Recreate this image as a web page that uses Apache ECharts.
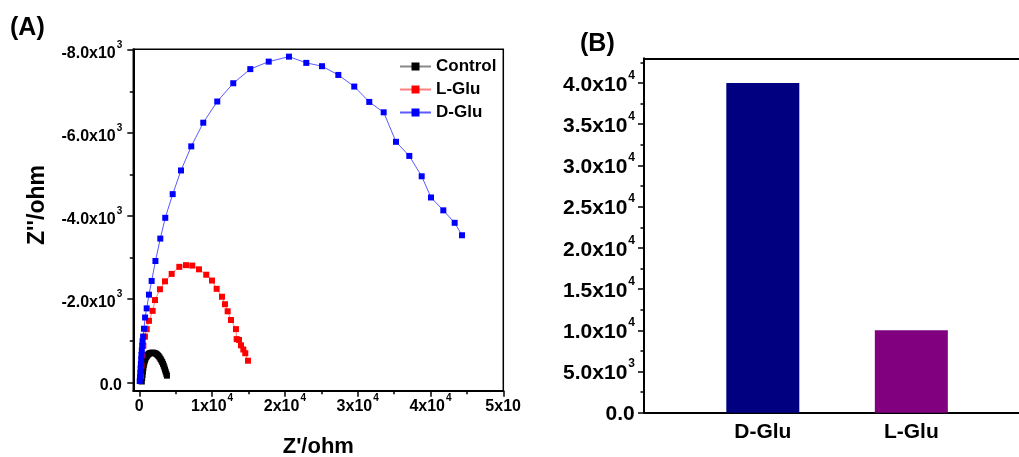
<!DOCTYPE html>
<html>
<head>
<meta charset="utf-8">
<script src="https://cdn.jsdelivr.net/npm/echarts@6/dist/echarts.min.js"></script>
<style>
  html, body { margin: 0; padding: 0; background: #fff; }
  #chart { width: 1019px; height: 457px; }
</style>
</head>
<body>
<div id="chart"></div>
<script>
const FONT = '"Liberation Sans", Arial, Helvetica, sans-serif';

// (A) Nyquist plots: Z' (real) and Z'' (imaginary), ohm
const controlZre = [350, 400, 450, 500, 560, 620, 690, 770, 860, 960, 1070, 1190, 1320, 1460, 1600, 1750, 1900, 2050, 2200, 2350, 2500, 2640, 2780, 2910, 3030, 3150, 3260, 3360, 3450, 3540, 3630, 3720, 3800];
const controlZim = [-20, -100, -180, -260, -340, -410, -470, -525, -570, -610, -640, -665, -685, -700, -708, -712, -712, -708, -698, -682, -660, -632, -600, -565, -527, -487, -445, -400, -355, -305, -255, -205, -160];

const lGluZre = [200, 300, 420, 560, 780, 1020, 1330, 1840, 2160, 2840, 3530, 4450, 5500, 6420, 7280, 8200, 9200, 9990, 10630, 11360, 11770, 12140, 12600, 13280, 13380, 13700, 13970, 14290, 14560, 14930];
const lGluZim = [-150, -400, -650, -880, -1100, -1280, -1480, -1720, -1980, -2240, -2430, -2610, -2780, -2820, -2810, -2720, -2590, -2450, -2250, -2060, -1880, -1710, -1500, -1280, -1040, -1020, -890, -790, -700, -520];

const dGluZre = [60, 100, 140, 180, 220, 260, 300, 350, 400, 450, 530, 650, 800, 1020, 1330, 1700, 2220, 2890, 3570, 4590, 5730, 7140, 8790, 10710, 12910, 15250, 17780, 20560, 22940, 25100, 27340, 29530, 31590, 33570, 35260, 37090, 38790, 40070, 41760, 43320, 44330];
const dGluZim = [-30, -120, -220, -330, -440, -550, -660, -770, -880, -990, -1100, -1290, -1560, -1780, -2110, -2440, -2920, -3460, -3960, -4530, -5100, -5680, -6250, -6760, -7200, -7540, -7720, -7840, -7690, -7610, -7400, -7120, -6750, -6500, -5790, -5450, -4960, -4450, -4140, -3840, -3540];

const nyquistXTicks = [0, 10000, 20000, 30000, 40000, 50000];
const nyquistXLabels = ['0', '1x10^4', '2x10^4', '3x10^4', '4x10^4', '5x10'];
const nyquistXMinor = [5000, 15000, 25000, 35000, 45000];
const nyquistYTicks = [-8000, -6000, -4000, -2000, 0];
const nyquistYLabels = ['-8.0x10^3', '-6.0x10^3', '-4.0x10^3', '-2.0x10^3', '0.0'];
const nyquistYMinor = [-7000, -5000, -3000, -1000];

// (B) bar comparison
const barCategories = ['D-Glu', 'L-Glu'];
const barValues = [40000, 10000];
const barColors = ['#000080', '#800080'];
const barYTicks = [0, 5000, 10000, 15000, 20000, 25000, 30000, 35000, 40000];
const barYLabels = ['0.0', '5.0x10^3', '1.0x10^4', '1.5x10^4', '2.0x10^4', '2.5x10^4', '3.0x10^4', '3.5x10^4', '4.0x10^4'];
const barYMinor = [2500, 7500, 12500, 17500, 22500, 27500, 32500, 37500, 42500];

// "a^b" -> rich text with a raised exponent; plain labels get an
// invisible strut so every label has the same line box
function withSup(label) {
  const parts = label.split('^');
  return parts.length > 1 ? '{b|' + parts[0] + '}{s|' + parts[1] + '}' : '{b|' + parts[0] + '}{e| }';
}
function tickFormatter(ticks, labels) {
  return function (v) {
    const i = ticks.findIndex(t => Math.abs(t - v) < 1e-6);
    return i < 0 ? '' : withSup(labels[i]);
  };
}
function richStyle(size, supSize, raise) {
  return {
    b: { fontFamily: FONT, fontWeight: 'bold', fontSize: size, color: '#000', lineHeight: size + 2, verticalAlign: 'bottom' },
    s: { fontFamily: FONT, fontWeight: 'bold', fontSize: supSize, color: '#000', lineHeight: supSize, verticalAlign: 'bottom', padding: [0, 0, raise, 1] },
    e: { fontFamily: FONT, fontSize: 1, color: 'rgba(0,0,0,0)', lineHeight: supSize, verticalAlign: 'bottom', padding: [0, 0, raise, 0] }
  };
}
function zip(a, b) { return a.map((v, i) => [v, b[i]]); }

const black = '#000';

const option = {
  animation: false,
  backgroundColor: '#fff',
  title: [
    { text: '(A)', left: 10, top: 16, padding: 0, textStyle: { fontFamily: FONT, fontWeight: 'bold', fontSize: 25, color: black } },
    { text: '(B)', left: 580, top: 32, padding: 0, textStyle: { fontFamily: FONT, fontWeight: 'bold', fontSize: 25, color: black } }
  ],
  legend: {
    orient: 'vertical',
    left: 399,
    top: 58,
    padding: 0,
    itemWidth: 31,
    itemHeight: 10,
    itemGap: 6,
    data: ['Control', 'L-Glu', 'D-Glu'],
    textStyle: { fontFamily: FONT, fontWeight: 'bold', fontSize: 17, color: black, lineHeight: 16 }
  },
  grid: [
    { left: 133.3, top: 49.3, width: 370, height: 341.4, show: true, borderColor: black, borderWidth: 1.5, containLabel: false, outerBoundsMode: 'none' },
    { left: 644, top: 58.3, width: 375, height: 354.4, show: false, containLabel: false, outerBoundsMode: 'none' }
  ],
  xAxis: [
    {
      type: 'value', gridIndex: 0, position: 'bottom', min: -820, max: 50000,
      axisLine: { show: true, onZero: false, lineStyle: { color: black, width: 2 } },
      axisTick: { show: true, length: 6, customValues: nyquistXTicks, lineStyle: { color: black, width: 1.5 } },
      axisLabel: { margin: 6, customValues: nyquistXTicks, formatter: tickFormatter(nyquistXTicks, nyquistXLabels), rich: richStyle(16, 10, 11) },
      splitLine: { show: false },
      name: "Z'/ohm", nameLocation: 'middle', nameGap: 45,
      nameTextStyle: { fontFamily: FONT, fontWeight: 'bold', fontSize: 22, color: black }
    },
    {
      type: 'value', gridIndex: 0, position: 'bottom', min: -820, max: 50000,
      axisLine: { show: false, onZero: false },
      axisTick: { show: true, length: 3.5, customValues: nyquistXMinor, lineStyle: { color: black, width: 1.5 } },
      axisLabel: { show: false },
      splitLine: { show: false }
    },
    {
      type: 'value', gridIndex: 1, position: 'bottom', min: 0.2, max: 2.725,
      axisLine: { show: true, onZero: false, lineStyle: { color: black, width: 2 } },
      axisTick: { show: false },
      axisLabel: {
        margin: 9, customValues: [1, 2],
        formatter: v => barCategories[Math.round(v) - 1] || '',
        fontFamily: FONT, fontWeight: 'bold', fontSize: 21, color: black
      },
      splitLine: { show: false }
    },
    {
      // top frame line of panel B
      type: 'value', gridIndex: 1, position: 'top', min: 0.2, max: 2.725,
      axisLine: { show: true, onZero: false, lineStyle: { color: black, width: 2 } },
      axisTick: { show: false },
      axisLabel: { show: false },
      splitLine: { show: false }
    }
  ],
  yAxis: [
    {
      type: 'value', gridIndex: 0, position: 'left', inverse: true, min: -8017, max: 202,
      axisLine: { show: true, onZero: false, lineStyle: { color: black, width: 2 } },
      axisTick: { show: true, length: 6, customValues: nyquistYTicks, lineStyle: { color: black, width: 1.5 } },
      axisLabel: { margin: 11, padding: [5, 0, 0, 0], customValues: nyquistYTicks, formatter: tickFormatter(nyquistYTicks, nyquistYLabels), rich: richStyle(16, 10, 11) },
      splitLine: { show: false },
      name: "Z''/ohm", nameLocation: 'middle', nameRotate: 90, nameGap: 84,
      nameTextStyle: { fontFamily: FONT, fontWeight: 'bold', fontSize: 23, color: black, padding: [0, 0, 0, 30] }
    },
    {
      type: 'value', gridIndex: 0, position: 'left', inverse: true, min: -8017, max: 202,
      axisLine: { show: false, onZero: false },
      axisTick: { show: true, length: 3.5, customValues: nyquistYMinor, lineStyle: { color: black, width: 1.5 } },
      axisLabel: { show: false },
      splitLine: { show: false }
    },
    {
      type: 'value', gridIndex: 1, position: 'left', min: 0, max: 43000,
      axisLine: { show: true, onZero: false, lineStyle: { color: black, width: 2 } },
      axisTick: { show: true, length: 6, customValues: barYTicks, lineStyle: { color: black, width: 1.5 } },
      axisLabel: { margin: 9, padding: [2, 0, 0, 0], customValues: barYTicks, formatter: tickFormatter(barYTicks, barYLabels), rich: richStyle(21, 12, 14) },
      splitLine: { show: false }
    },
    {
      type: 'value', gridIndex: 1, position: 'left', min: 0, max: 43000,
      axisLine: { show: false, onZero: false },
      axisTick: { show: true, length: 3.5, customValues: barYMinor, lineStyle: { color: black, width: 1.5 } },
      axisLabel: { show: false },
      splitLine: { show: false }
    }
  ],
  series: [
    {
      name: 'Control', type: 'line', xAxisIndex: 0, yAxisIndex: 0,
      data: zip(controlZre, controlZim),
      symbol: 'rect', symbolSize: 6, showSymbol: true,
      itemStyle: { color: '#000' },
      lineStyle: { color: '#888', width: 1 }
    },
    {
      name: 'L-Glu', type: 'line', xAxisIndex: 0, yAxisIndex: 0,
      data: zip(lGluZre, lGluZim),
      symbol: 'rect', symbolSize: 6, showSymbol: true,
      itemStyle: { color: '#ff0000' },
      lineStyle: { color: '#ff8080', width: 1 }
    },
    {
      name: 'D-Glu', type: 'line', xAxisIndex: 0, yAxisIndex: 0,
      data: zip(dGluZre, dGluZim),
      symbol: 'rect', symbolSize: 6, showSymbol: true,
      itemStyle: { color: '#0000ff' },
      lineStyle: { color: '#5a5aff', width: 1 }
    },
    {
      name: 'bars', type: 'bar', xAxisIndex: 2, yAxisIndex: 2,
      barWidth: 73,
      data: barCategories.map((c, i) => ({ name: c, value: [i + 1, barValues[i]], itemStyle: { color: barColors[i] } }))
    }
  ]
};

const chart = echarts.init(document.getElementById('chart'), null, { renderer: 'canvas' });
chart.setOption(option);
</script>
</body>
</html>
